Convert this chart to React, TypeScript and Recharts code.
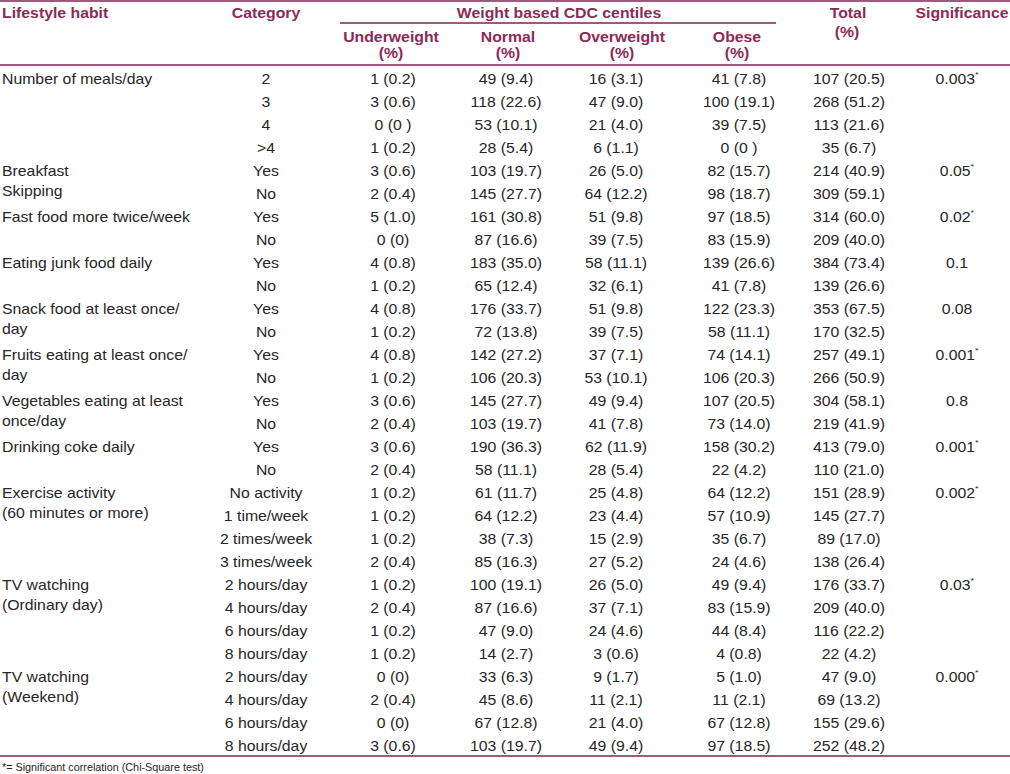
import { ScatterChart, Scatter, XAxis, YAxis, ReferenceLine } from "recharts";

// table content
const habits = [
    ["Number of meals/day"],
    ["Breakfast", "Skipping"],
    ["Fast food more twice/week"],
    ["Eating junk food daily"],
    ["Snack food at least once/", "day"],
    ["Fruits eating at least once/", "day"],
    ["Vegetables eating at least", "once/day"],
    ["Drinking coke daily"],
    ["Exercise activity", "(60 minutes or more)"],
    ["TV watching", "(Ordinary day)"],
    ["TV watching", "(Weekend)"],
];
const habitRows = [4, 2, 2, 2, 2, 2, 2, 2, 4, 4, 4];
const significance = ["0.003*", "0.05*", "0.02*", "0.1", "0.08", "0.001*", "0.8", "0.001*", "0.002*", "0.03*", "0.000*"];

const categories = [
    "2", "3", "4", ">4",
    "Yes", "No", "Yes", "No", "Yes", "No", "Yes", "No", "Yes", "No", "Yes", "No", "Yes", "No",
    "No activity", "1 time/week", "2 times/week", "3 times/week",
    "2 hours/day", "4 hours/day", "6 hours/day", "8 hours/day",
    "2 hours/day", "4 hours/day", "6 hours/day", "8 hours/day",
];
const underweight = [
    "1 (0.2)", "3 (0.6)", "0 (0 )", "1 (0.2)", "3 (0.6)", "2 (0.4)", "5 (1.0)", "0 (0)",
    "4 (0.8)", "1 (0.2)", "4 (0.8)", "1 (0.2)", "4 (0.8)", "1 (0.2)", "3 (0.6)", "2 (0.4)",
    "3 (0.6)", "2 (0.4)", "1 (0.2)", "1 (0.2)", "1 (0.2)", "2 (0.4)", "1 (0.2)", "2 (0.4)",
    "1 (0.2)", "1 (0.2)", "0 (0)", "2 (0.4)", "0 (0)", "3 (0.6)",
];
const normal = [
    "49 (9.4)", "118 (22.6)", "53 (10.1)", "28 (5.4)", "103 (19.7)", "145 (27.7)", "161 (30.8)", "87 (16.6)",
    "183 (35.0)", "65 (12.4)", "176 (33.7)", "72 (13.8)", "142 (27.2)", "106 (20.3)", "145 (27.7)", "103 (19.7)",
    "190 (36.3)", "58 (11.1)", "61 (11.7)", "64 (12.2)", "38 (7.3)", "85 (16.3)", "100 (19.1)", "87 (16.6)",
    "47 (9.0)", "14 (2.7)", "33 (6.3)", "45 (8.6)", "67 (12.8)", "103 (19.7)",
];
const overweight = [
    "16 (3.1)", "47 (9.0)", "21 (4.0)", "6 (1.1)", "26 (5.0)", "64 (12.2)", "51 (9.8)", "39 (7.5)",
    "58 (11.1)", "32 (6.1)", "51 (9.8)", "39 (7.5)", "37 (7.1)", "53 (10.1)", "49 (9.4)", "41 (7.8)",
    "62 (11.9)", "28 (5.4)", "25 (4.8)", "23 (4.4)", "15 (2.9)", "27 (5.2)", "26 (5.0)", "37 (7.1)",
    "24 (4.6)", "3 (0.6)", "9 (1.7)", "11 (2.1)", "21 (4.0)", "49 (9.4)",
];
const obese = [
    "41 (7.8)", "100 (19.1)", "39 (7.5)", "0 (0 )", "82 (15.7)", "98 (18.7)", "97 (18.5)", "83 (15.9)",
    "139 (26.6)", "41 (7.8)", "122 (23.3)", "58 (11.1)", "74 (14.1)", "106 (20.3)", "107 (20.5)", "73 (14.0)",
    "158 (30.2)", "22 (4.2)", "64 (12.2)", "57 (10.9)", "35 (6.7)", "24 (4.6)", "49 (9.4)", "83 (15.9)",
    "44 (8.4)", "4 (0.8)", "5 (1.0)", "11 (2.1)", "67 (12.8)", "97 (18.5)",
];
const total = [
    "107 (20.5)", "268 (51.2)", "113 (21.6)", "35 (6.7)", "214 (40.9)", "309 (59.1)", "314 (60.0)", "209 (40.0)",
    "384 (73.4)", "139 (26.6)", "353 (67.5)", "170 (32.5)", "257 (49.1)", "266 (50.9)", "304 (58.1)", "219 (41.9)",
    "413 (79.0)", "110 (21.0)", "151 (28.9)", "145 (27.7)", "89 (17.0)", "138 (26.4)", "176 (33.7)", "209 (40.0)",
    "116 (22.2)", "22 (4.2)", "47 (9.0)", "69 (13.2)", "155 (29.6)", "252 (48.2)",
];
const footnote = "*= Significant correlation (Chi-Square test)";

// layout
const W = 1010;
const H = 774;
const ROW0 = 79;
const ROW_H = 23;
const rowOf = (px: number) => (px - ROW0) / ROW_H;
const Y_MIN = rowOf(0);
const Y_MAX = rowOf(H);
const STRETCH = 1.13;
const INK = "#262626";
const HEAD = "#8c2a57";
const RULE = "#7d2450";
const FONT = "'Liberation Sans', Arial, Helvetica, sans-serif";

const COL = { habit: 2, category: 266, under: 393, normal: 506, over: 616, obese: 739, total: 849, sig: 957 };
const valueCols = [
    { x: COL.under, values: underweight },
    { x: COL.normal, values: normal },
    { x: COL.over, values: overweight },
    { x: COL.obese, values: obese },
    { x: COL.total, values: total },
];

type TextCell = {
    x: number;
    y: number;
    text: string;
    anchor: "start" | "middle";
    header?: boolean;
    small?: boolean;
};

const headerCells: TextCell[] = [
    { x: COL.habit, y: rowOf(13), text: "Lifestyle habit", anchor: "start", header: true },
    { x: COL.category, y: rowOf(13), text: "Category", anchor: "middle", header: true },
    { x: 559, y: rowOf(13), text: "Weight based CDC centiles", anchor: "middle", header: true },
    { x: 391, y: rowOf(37), text: "Underweight", anchor: "middle", header: true },
    { x: 391, y: rowOf(53), text: "(%)", anchor: "middle", header: true },
    { x: 508, y: rowOf(37), text: "Normal", anchor: "middle", header: true },
    { x: 508, y: rowOf(53), text: "(%)", anchor: "middle", header: true },
    { x: 622, y: rowOf(37), text: "Overweight", anchor: "middle", header: true },
    { x: 622, y: rowOf(53), text: "(%)", anchor: "middle", header: true },
    { x: 737, y: rowOf(37), text: "Obese", anchor: "middle", header: true },
    { x: 737, y: rowOf(53), text: "(%)", anchor: "middle", header: true },
    { x: 848, y: rowOf(13), text: "Total", anchor: "middle", header: true },
    { x: 847, y: rowOf(32), text: "(%)", anchor: "middle", header: true },
    { x: 962, y: rowOf(13), text: "Significance", anchor: "middle", header: true },
];

const bodyCells: TextCell[] = [];
let start = 0;
habits.forEach((lines, g) => {
    lines.forEach((line, k) => {
        bodyCells.push({ x: COL.habit, y: start + (k * 20) / ROW_H, text: line, anchor: "start" });
    });
    bodyCells.push({ x: COL.sig, y: start, text: significance[g], anchor: "middle" });
    start += habitRows[g];
});
categories.forEach((c, i) => {
    bodyCells.push({ x: COL.category, y: i, text: c, anchor: "middle" });
    valueCols.forEach((col) => {
        bodyCells.push({ x: col.x, y: i, text: col.values[i], anchor: "middle" });
    });
});
bodyCells.push({ x: COL.habit, y: rowOf(767), text: footnote, anchor: "start", small: true });

const cells = [...headerCells, ...bodyCells];

const CellText = (props: any) => {
    const { cx, cy, payload } = props;
    if (cx == null || cy == null) return null;
    const cell = payload as TextCell;
    const star = cell.text.endsWith("*");
    const body = star ? cell.text.slice(0, -1) : cell.text;
    return (
        <g transform={`translate(${cx},${cy}) scale(${cell.small ? 1 : STRETCH},1)`}>
            <text
                x={0}
                y={0}
                textAnchor={cell.anchor}
                dominantBaseline="central"
                fontFamily={FONT}
                fontSize={cell.small ? 10.8 : 14}
                fontWeight={cell.header ? 700 : 400}
                fill={cell.header ? HEAD : INK}
            >
                {body}
                {star && (
                    <tspan fontSize={8} dy={-5}>
                        *
                    </tspan>
                )}
            </text>
        </g>
    );
};

const App = () => {
    return (
        <div>
            <style>{"body{margin:0;background:#fff}"}</style>
            <ScatterChart width={W} height={H} margin={{ top: 0, right: 0, bottom: 0, left: 0 }}>
                <XAxis type="number" dataKey="x" domain={[0, W]} allowDataOverflow hide />
                <YAxis type="number" dataKey="y" domain={[Y_MIN, Y_MAX]} allowDataOverflow reversed hide />
                <ReferenceLine y={rowOf(1)} stroke={RULE} strokeWidth={1.3} />
                <ReferenceLine
                    segment={[
                        { x: 340, y: rowOf(23) },
                        { x: 776, y: rowOf(23) },
                    ]}
                    stroke={RULE}
                    strokeWidth={1.3}
                />
                <ReferenceLine y={rowOf(65)} stroke={RULE} strokeWidth={1.3} />
                <ReferenceLine y={rowOf(756)} stroke={RULE} strokeWidth={1.3} />
                <Scatter data={cells} shape={CellText} isAnimationActive={false} />
            </ScatterChart>
        </div>
    );
};

export default App;
